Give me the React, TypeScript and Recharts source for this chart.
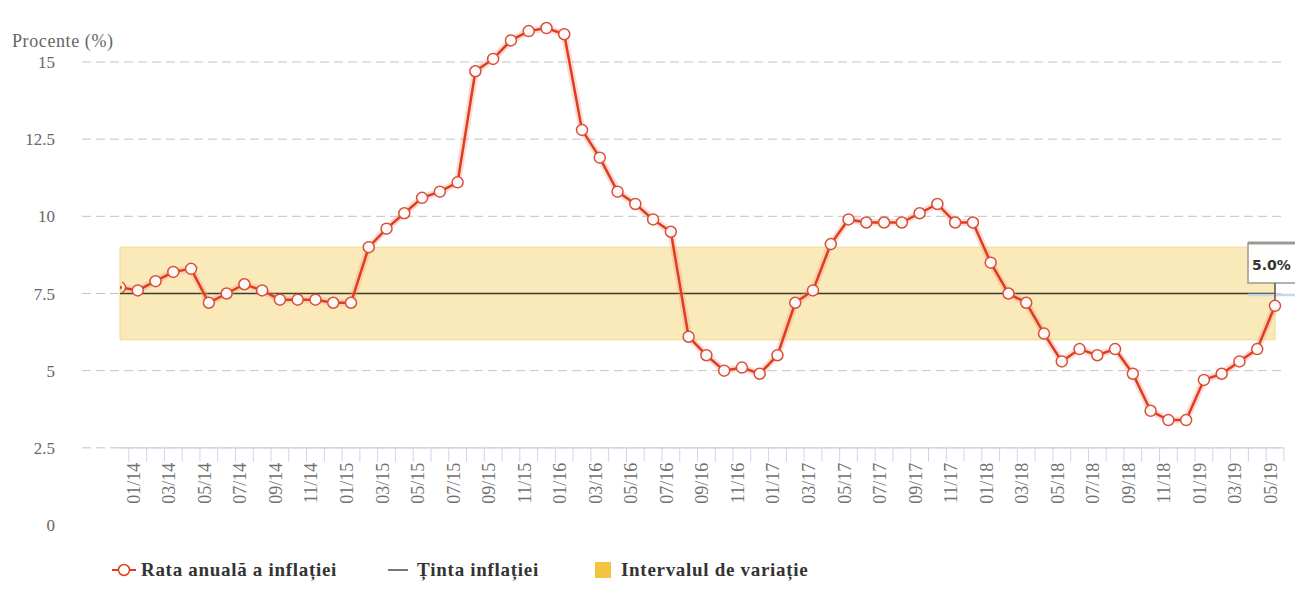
import React from 'react';
import {
  LineChart,
  Line,
  XAxis,
  YAxis,
  ReferenceLine,
  ReferenceArea,
  ReferenceDot,
  Legend,
  Label,
} from 'recharts';

// ---------- data ----------
const months = [
  '12/13',
  '01/14', '02/14', '03/14', '04/14', '05/14', '06/14', '07/14', '08/14', '09/14', '10/14', '11/14', '12/14',
  '01/15', '02/15', '03/15', '04/15', '05/15', '06/15', '07/15', '08/15', '09/15', '10/15', '11/15', '12/15',
  '01/16', '02/16', '03/16', '04/16', '05/16', '06/16', '07/16', '08/16', '09/16', '10/16', '11/16', '12/16',
  '01/17', '02/17', '03/17', '04/17', '05/17', '06/17', '07/17', '08/17', '09/17', '10/17', '11/17', '12/17',
  '01/18', '02/18', '03/18', '04/18', '05/18', '06/18', '07/18', '08/18', '09/18', '10/18', '11/18', '12/18',
  '01/19', '02/19', '03/19', '04/19', '05/19',
];

const inflation = [
  7.7,
  7.6, 7.9, 8.2, 8.3, 7.2, 7.5, 7.8, 7.6, 7.3, 7.3, 7.3, 7.2,
  7.2, 9.0, 9.6, 10.1, 10.6, 10.8, 11.1, 14.7, 15.1, 15.7, 16.0, 16.1,
  15.9, 12.8, 11.9, 10.8, 10.4, 9.9, 9.5, 6.1, 5.5, 5.0, 5.1, 4.9,
  5.5, 7.2, 7.6, 9.1, 9.9, 9.8, 9.8, 9.8, 10.1, 10.4, 9.8, 9.8,
  8.5, 7.5, 7.2, 6.2, 5.3, 5.7, 5.5, 5.7, 4.9, 3.7, 3.4, 3.4,
  4.7, 4.9, 5.3, 5.7, 7.1,
];

const targetValue = 7.5;
const bandLow = 6;
const bandHigh = 9;
const yTicks = [0, 2.5, 5, 7.5, 10, 12.5, 15];
const gridValues = [2.5, 5, 7.5, 10, 12.5, 15];
const xAxisLevel = 2.5;
const tooltipText = '5.0%';
const yAxisTitle = 'Procente (%)';
const legendLabels = ['Rata anuală a inflației', 'Ținta inflației', 'Intervalul de variație'];

const data = months.map((m, i) => ({ month: m, rate: inflation[i] }));

// ---------- geometry / style ----------
const W = 1295;
const H = 577;
const M = { top: 8, right: 20, bottom: 0, left: 0 };
const Y_AXIS_W = 74;
const X_AXIS_H = 30;
const LEGEND_H = 30;
const Y_MAX = 16.49;
const PAD_L = 38;
const PAD_R = 8;
const plotLeft = M.left + Y_AXIS_W;
const plotRight = W - M.right;
const plotTop = M.top;
const plotBottom = H - M.bottom - X_AXIS_H - LEGEND_H;
const yPix = (v: number) => plotBottom - (v / Y_MAX) * (plotBottom - plotTop);
const step = (plotRight - PAD_R - (plotLeft + PAD_L)) / (months.length - 1);
const half = step / 2;

const SERIF = '"Liberation Serif", "DejaVu Serif", serif';
const RED = '#e13c1e';
const AXIS_BLUE = '#ccd6eb';

const XTick = (props: any) => {
  const { x, index, payload } = props;
  const axisY = yPix(xAxisLevel);
  const last = index === months.length - 1;
  const showLabel = index % 2 === 1;
  const lx = x + 2;
  const ly = axisY + 15;
  return (
    <g>
      <line x1={index === 0 ? x - 2 : x - half} x2={x + half} y1={axisY} y2={axisY} stroke={AXIS_BLUE} strokeWidth={1.5} />
      {index > 0 && <line x1={x - half} x2={x - half} y1={axisY} y2={axisY + 14} stroke={AXIS_BLUE} strokeWidth={1} />}
      {last && <line x1={x + half} x2={x + half} y1={axisY} y2={axisY + 14} stroke={AXIS_BLUE} strokeWidth={1} />}
      {showLabel && (
        <text
          x={lx}
          y={ly}
          textAnchor="end"
          transform={`rotate(-90 ${lx} ${ly})`}
          fill="#707070"
          fontSize={18}
          fontFamily={SERIF}
        >
          {payload.value}
        </text>
      )}
    </g>
  );
};

const RateDot = (props: any) => {
  const { cx, cy, index } = props;
  if (cx == null || cy == null) return null;
  if (index === 0) {
    return (
      <g key={`d${index}`}>
        <defs>
          <clipPath id="firstDotClip">
            <rect x={cx + 2} y={cy - 10} width={12} height={20} />
          </clipPath>
        </defs>
        <circle cx={cx} cy={cy} r={5.5} fill="#fff" stroke="#d9503a" strokeWidth={1.5} clipPath="url(#firstDotClip)" />
      </g>
    );
  }
  return <circle key={`d${index}`} cx={cx} cy={cy} r={5.5} fill="#fffafa" stroke="#d9503a" strokeWidth={1.5} />;
};

const TooltipShape = (props: any) => {
  const { cx, cy } = props;
  if (cx == null || cy == null) return null;
  const left = cx - 27;
  const top = cy - 50.5;
  const bottom = cy - 10.5;
  return (
    <g>
      <line x1={left} x2={left + 70} y1={cy + 1.5} y2={cy + 1.5} stroke="#c8d8ea" strokeWidth={2.5} />
      <rect x={left} y={top} width={70} height={bottom - top} fill="#ffffff" fillOpacity={0.92} stroke="#999" strokeWidth={1.5} />
      <line x1={left} x2={left + 70} y1={top} y2={top} stroke="#999" strokeWidth={3} />
      <line x1={cx} x2={cx} y1={bottom} y2={cy + 8} stroke="#555" strokeWidth={1.5} />
      <text x={left + 4} y={cy - 23} fill="#333" fontSize={14} fontWeight="bold" fontFamily='"DejaVu Sans", sans-serif'>
        {tooltipText}
      </text>
    </g>
  );
};

// legend item x positions are relative to the chart's left edge
const LegendContent = () => {
  const textStyle: React.CSSProperties = {
    position: 'absolute',
    top: 3,
    fontFamily: SERIF,
    fontWeight: 'bold',
    fontSize: 19,
    letterSpacing: 0.7,
    color: '#333',
    whiteSpace: 'nowrap',
    lineHeight: '24px',
  };
  return (
    <div style={{ position: 'relative', width: W, height: LEGEND_H }}>
      <svg width={W} height={LEGEND_H} style={{ position: 'absolute', left: 0, top: 0 }}>
        <line x1={104} x2={128} y1={15} y2={15} stroke={RED} strokeWidth={2} />
        <circle cx={116} cy={15} r={5.5} fill="#fff" stroke={RED} strokeWidth={1.5} />
        <line x1={380} x2={400} y1={15} y2={15} stroke="#777" strokeWidth={2} />
        <rect x={587} y={7} width={16} height={16} fill="#f2c541" />
      </svg>
      <span style={{ ...textStyle, left: 133 }}>{legendLabels[0]}</span>
      <span style={{ ...textStyle, left: 409 }}>{legendLabels[1]}</span>
      <span style={{ ...textStyle, left: 613 }}>{legendLabels[2]}</span>
    </div>
  );
};

export default function App() {
  return (
    <div style={{ width: W, height: H, background: '#fff' }}>
      <LineChart width={W} height={H} data={data} margin={M}>
        <XAxis
          dataKey="month"
          type="category"
          scale="point"
          padding={{ left: PAD_L, right: PAD_R }}
          interval={0}
          height={X_AXIS_H}
          axisLine={false}
          tickLine={false}
          tick={<XTick />}
        />
        <YAxis
          type="number"
          domain={[0, Y_MAX]}
          ticks={yTicks}
          interval={0}
          width={Y_AXIS_W}
          axisLine={false}
          tickLine={false}
          tickSize={0}
          tickMargin={27}
          tick={{ fill: '#666', fontSize: 17, fontFamily: SERIF }}
        >
          <Label
            content={() => (
              <text x={4} y={39} fill="#666" fontSize={18} fontFamily={SERIF} letterSpacing={0.6}>
                {yAxisTitle}
              </text>
            )}
          />
        </YAxis>
        {gridValues.map((v) => (
          <ReferenceLine key={`g${v}`} y={v} stroke="#c4c4c4" strokeWidth={1} strokeDasharray="9 5" />
        ))}
        <ReferenceArea
          x1={months[0]}
          x2={months[months.length - 1]}
          y1={bandLow}
          y2={bandHigh}
          fill="#f2c541"
          fillOpacity={0.36}
          stroke="#f0d98c"
          strokeWidth={1}
        />
        <ReferenceLine
          segment={[
            { x: months[0], y: targetValue },
            { x: months[months.length - 1], y: targetValue },
          ]}
          stroke="#3a3a2e"
          strokeWidth={1.5}
        />
        <Line
          dataKey="rate"
          stroke="#f19c8a"
          strokeOpacity={0.35}
          strokeWidth={7}
          dot={false}
          activeDot={false}
          legendType="none"
          isAnimationActive={false}
        />
        <Line
          dataKey="rate"
          name={legendLabels[0]}
          stroke={RED}
          strokeWidth={2.5}
          dot={<RateDot />}
          activeDot={false}
          isAnimationActive={false}
        />
        <ReferenceDot x={months[months.length - 1]} y={targetValue} r={0} shape={<TooltipShape />} />
        <Legend
          verticalAlign="bottom"
          height={LEGEND_H}
          content={<LegendContent />}
          wrapperStyle={{ position: 'absolute', left: 0, top: plotBottom + X_AXIS_H, width: W, height: LEGEND_H }}
        />
      </LineChart>
    </div>
  );
}
